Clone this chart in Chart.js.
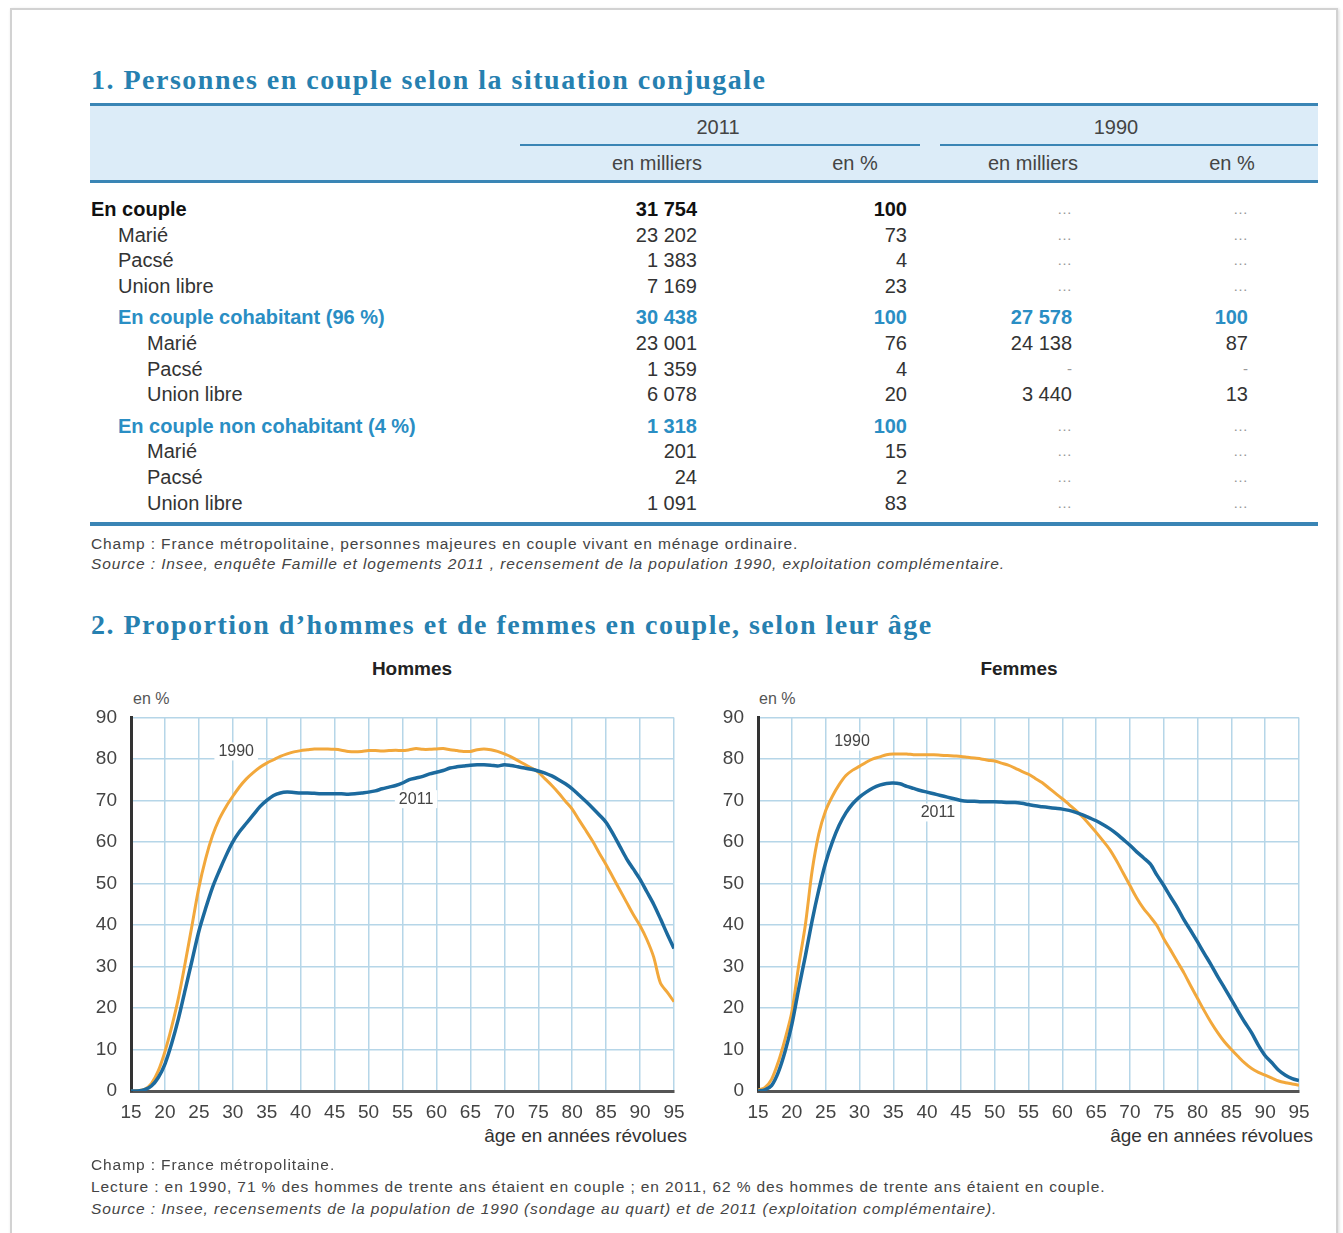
<!DOCTYPE html>
<html lang="fr">
<head>
<meta charset="utf-8">
<title>Personnes en couple</title>
<script src="https://cdn.jsdelivr.net/npm/chart.js@4.4.1/dist/chart.umd.min.js"></script>
<style>
  html, body { margin: 0; padding: 0; background: #fff; }
  body { width: 1343px; height: 1233px; position: relative; overflow: hidden;
         font-family: "Liberation Sans", Arial, sans-serif; color: #333; }
  .card { position: absolute; left: 10px; top: 8px; width: 1324px; height: 1240px;
          border: 2px solid #d2d2d2; box-shadow: 1px 1px 3px rgba(0,0,0,0.15); background: #fff; }
  .abs { position: absolute; white-space: nowrap; }
  .title { font-family: "Liberation Serif", "DejaVu Serif", serif; font-weight: bold;
           font-size: 28px; color: #2680b0; letter-spacing: 1.5px; }
  .band { position: absolute; left: 90px; width: 1228px; top: 106px; height: 76px; background: #dcecf8; }
  .rule { position: absolute; background: #3a85b5; }
  .hd { font-size: 20px; color: #444; transform: translateX(-50%); }
  .row { font-size: 20px; line-height: 24px; }
  .note { font-size: 15.5px; color: #444; letter-spacing: 0.9px; }
  .note i { font-style: italic; }
  .sub { font-size: 19px; font-weight: bold; color: #222; transform: translateX(-50%); }
  .unit { font-size: 16px; color: #555; }
  .xt { font-size: 19px; color: #333; transform: translateX(-100%); }
  canvas { position: absolute; }
</style>
</head>
<body>
<div class="card"></div>

<div class="abs title" style="left:91px; top:64px;">1. Personnes en couple selon la situation conjugale</div>
<div class="band"></div>
<div class="rule" style="left:90px; top:103px; width:1228px; height:3px;"></div>
<div class="rule" style="left:520px; top:144px; width:400px; height:2px;"></div>
<div class="rule" style="left:940px; top:144px; width:378px; height:2px;"></div>
<div class="rule" style="left:90px; top:180px; width:1228px; height:3px;"></div>
<div class="rule" style="left:90px; top:522px; width:1228px; height:4px;"></div>
<div id="header"></div>
<div id="table"></div>

<div class="abs note" style="left:91px; top:535px;">Champ : France métropolitaine, personnes majeures en couple vivant en ménage ordinaire.</div>
<div class="abs note" style="left:91px; top:555px;"><i>Source : Insee, enquête Famille et logements 2011 , recensement de la population 1990, exploitation complémentaire.</i></div>

<div class="abs title" style="left:91px; top:609px;">2. Proportion d’hommes et de femmes en couple, selon leur âge</div>

<div class="abs sub" style="left:412px; top:658px;">Hommes</div>
<div class="abs sub" style="left:1019px; top:658px;">Femmes</div>
<div class="abs unit" style="left:133px; top:690px;">en %</div>
<div class="abs unit" style="left:759px; top:690px;">en %</div>
<div class="abs xt" style="left:687px; top:1125px;">âge en années révolues</div>
<div class="abs xt" style="left:1313px; top:1125px;">âge en années révolues</div>

<canvas id="hommes" width="620" height="468" style="left:80px; top:692px;"></canvas>
<canvas id="femmes" width="620" height="468" style="left:705px; top:692px;"></canvas>

<div class="abs note" style="left:91px; top:1156px;">Champ : France métropolitaine.</div>
<div class="abs note" style="left:91px; top:1178px;">Lecture : en 1990, 71 % des hommes de trente ans étaient en couple ; en 2011, 62 % des hommes de trente ans étaient en couple.</div>
<div class="abs note" style="left:91px; top:1200px;"><i>Source : Insee, recensements de la population de 1990 (sondage au quart) et de 2011 (exploitation complémentaire).</i></div>

<script>
// ---- table 1 ----
const rowLabels = ['En couple', 'Marié', 'Pacsé', 'Union libre',
  'En couple cohabitant (96 %)', 'Marié', 'Pacsé', 'Union libre',
  'En couple non cohabitant (4 %)', 'Marié', 'Pacsé', 'Union libre'];
const rowLevels = [0, 1, 1, 1, 1, 2, 2, 2, 1, 2, 2, 2];
const rowKinds = ['total', '', '', '', 'group', '', '', '', 'group', '', '', ''];
const milliers2011 = ['31 754', '23 202', '1 383', '7 169', '30 438', '23 001', '1 359', '6 078', '1 318', '201', '24', '1 091'];
const pct2011 = ['100', '73', '4', '23', '100', '76', '4', '20', '100', '15', '2', '83'];
const milliers1990 = ['…', '…', '…', '…', '27 578', '24 138', '-', '3 440', '…', '…', '…', '…'];
const pct1990 = ['…', '…', '…', '…', '100', '87', '-', '13', '…', '…', '…', '…'];

// ---- graphique 2 ----
const ages = [];
for (let a = 15; a <= 95; a++) ages.push(a);

const hommes1990 = [0, 0.1, 0.4, 1.8, 4.8, 9.5, 15.5, 22.5, 31, 40,
  49, 56, 61.5, 65.5, 68.5, 71, 73.3, 75.2, 76.7, 78,
  79, 79.8, 80.6, 81.2, 81.7, 82, 82.2, 82.4, 82.4, 82.4,
  82.3, 82.1, 81.8, 81.7, 81.8, 82, 82, 81.9, 82, 82.1,
  82, 82.2, 82.5, 82.3, 82.3, 82.4, 82.5, 82.2, 82, 81.8,
  81.8, 82.2, 82.4, 82.2, 81.8, 81.2, 80.5, 79.6, 78.7, 77.8,
  76.8, 75.2, 73.6, 71.8, 69.8, 67.9, 65.3, 62.8, 60.2, 57.3,
  54.5, 51.5, 48.5, 45.5, 42.5, 39.8, 36.5, 32.3, 26, 23.8, 21.5];
const hommes2011 = [0, 0, 0.3, 1.2, 3.2, 6.5, 11.5, 17.5, 24.5, 31.5,
  38.5, 44, 49, 53, 56.7, 60, 62.5, 64.5, 66.5, 68.5,
  70, 71.2, 71.8, 72, 71.9, 71.8, 71.8, 71.7, 71.6, 71.6,
  71.6, 71.6, 71.5, 71.6, 71.8, 72, 72.3, 72.8, 73.2, 73.6,
  74.2, 75, 75.4, 75.8, 76.4, 76.8, 77.2, 77.8, 78.1, 78.3,
  78.5, 78.6, 78.6, 78.5, 78.3, 78.6, 78.4, 78.1, 77.8, 77.5,
  77.1, 76.6, 75.9, 75, 74, 72.8, 71.3, 69.8, 68.2, 66.5,
  64.7, 62, 59, 56, 53.5, 51, 48, 45, 41.5, 37.8, 34.3];
const femmes1990 = [0.2, 0.8, 2.8, 7, 12.5, 19, 30, 40, 53, 62,
  67.5, 71, 73.8, 76, 77.3, 78.2, 79.2, 80, 80.5, 81,
  81.2, 81.2, 81.2, 81, 81, 81, 81, 80.9, 80.8, 80.7,
  80.6, 80.4, 80.2, 80, 79.7, 79.5, 79, 78.5, 77.8, 77,
  76.3, 75.3, 74.3, 73, 71.7, 70.4, 69, 67.6, 66, 64.2,
  62.3, 60.3, 58.2, 55.5, 52.5, 49.5, 46.5, 44, 42, 39.8,
  36.7, 34, 31.2, 28.4, 25.3, 22.3, 19.3, 16.5, 14, 11.8,
  10, 8.3, 6.7, 5.4, 4.5, 3.8, 3.1, 2.4, 2, 1.7, 1.4];
const femmes2011 = [0, 0.3, 1.3, 4.5, 9.5, 16, 24.5, 32.5, 41, 48.5,
  55, 60, 64, 67, 69.2, 70.8, 72, 73, 73.7, 74.1,
  74.2, 74, 73.4, 72.9, 72.4, 72, 71.6, 71.2, 70.8, 70.4,
  70, 69.8, 69.8, 69.7, 69.7, 69.7, 69.6, 69.5, 69.5, 69.3,
  69, 68.7, 68.5, 68.3, 68.1, 67.9, 67.6, 67.1, 66.5, 65.8,
  65.1, 64.2, 63.2, 62, 60.6, 59.2, 57.6, 56.2, 54.7, 52,
  49.5, 46.8, 44.2, 41.2, 38.6, 35.9, 33.1, 30.4, 27.5, 24.8,
  22, 19.2, 16.5, 14, 11, 8.5, 6.8, 5, 3.8, 3, 2.5];
const yTicks = [0, 10, 20, 30, 40, 50, 60, 70, 80, 90];
const xTicks = [15, 20, 25, 30, 35, 40, 45, 50, 55, 60, 65, 70, 75, 80, 85, 90, 95];

// header
const header = document.getElementById('header');
function addText(parent, text, left, top, cls, style) {
  const d = document.createElement('div');
  d.className = 'abs ' + (cls || '');
  d.textContent = text;
  d.style.left = left + 'px';
  d.style.top = top + 'px';
  if (style) Object.assign(d.style, style);
  parent.appendChild(d);
  return d;
}
addText(header, '2011', 718, 116, 'hd');
addText(header, '1990', 1116, 116, 'hd');
addText(header, 'en milliers', 657, 152, 'hd');
addText(header, 'en %', 855, 152, 'hd');
addText(header, 'en milliers', 1033, 152, 'hd');
addText(header, 'en %', 1232, 152, 'hd');

// body rows
const table = document.getElementById('table');
const indents = [91, 118, 147];
const colRight = [697, 907, 1072, 1248];
let y = 197;
rowLabels.forEach((lab, i) => {
  if (i > 0 && rowKinds[i] === 'group') y += 6;
  let color = '#333', weight = 'normal';
  if (rowKinds[i] === 'total') { color = '#111'; weight = 'bold'; }
  if (rowKinds[i] === 'group') { color = '#2a8ec4'; weight = 'bold'; }
  const st = { color: color, fontWeight: weight };
  addText(table, lab, indents[rowLevels[i]], y, 'row', st);
  [milliers2011[i], pct2011[i], milliers1990[i], pct1990[i]].forEach((v, c) => {
    const d = addText(table, v, colRight[c], y, 'row', st);
    d.style.transform = 'translateX(-100%)';
    if (v === '…' || v === '-') { d.style.color = '#999'; d.style.fontWeight = 'normal'; d.style.fontSize = '15px'; }
  });
  y += 25.6;
});

// ---- charts ----
const tickFont = { family: '"Liberation Sans", Arial, sans-serif', size: 19 };

const seriesLabels = {
  id: 'seriesLabels',
  beforeDatasetsDraw(chart, args, opts) {
    const { ctx, scales: { x, y } } = chart;
    ctx.save();
    ctx.font = '16px "Liberation Sans", Arial, sans-serif';
    opts.items.forEach(it => {
      const w = ctx.measureText(it.text).width;
      ctx.fillStyle = '#fff';
      ctx.fillRect(x.getPixelForValue(it.x) - w / 2 - 4, y.getPixelForValue(it.y) - 9, w + 8, 18);
    });
    ctx.restore();
  },
  afterDatasetsDraw(chart, args, opts) {
    const { ctx, scales: { x, y } } = chart;
    ctx.save();
    ctx.font = '16px "Liberation Sans", Arial, sans-serif';
    ctx.fillStyle = '#444';
    ctx.textAlign = 'center';
    ctx.textBaseline = 'middle';
    opts.items.forEach(it => {
      ctx.fillText(it.text, x.getPixelForValue(it.x), y.getPixelForValue(it.y));
    });
    ctx.restore();
  }
};

function makeChart(id, v1990, v2011, labels, leftWidth) {
  const toPoints = vals => ages.map((a, i) => ({ x: a, y: vals[i] }));
  return new Chart(document.getElementById(id), {
    type: 'line',
    data: {
      datasets: [
        { label: '2011', data: toPoints(v2011), borderColor: '#1c6a9e', borderWidth: 3.5,
          pointRadius: 0, tension: 0.3, order: 1 },
        { label: '1990', data: toPoints(v1990), borderColor: '#f2a83c', borderWidth: 3,
          pointRadius: 0, tension: 0.3, order: 2 }
      ]
    },
    options: {
      responsive: false,
      animation: false,
      layout: { padding: { top: 9, right: 26, bottom: 0, left: 0 } },
      scales: {
        x: {
          type: 'linear', min: 15, max: 95,
          afterBuildTicks: s => { s.ticks = xTicks.map(v => ({ value: v })); },
          afterFit: s => { s.height = 69; },
          ticks: { color: '#444', font: tickFont, padding: 10, maxRotation: 0, autoSkip: false },
          grid: { color: '#b6d6e8', lineWidth: 1.5, drawTicks: false },
          border: { color: '#555', width: 3 }
        },
        y: {
          min: 0, max: 90,
          afterBuildTicks: s => { s.ticks = yTicks.map(v => ({ value: v })); },
          afterFit: s => { s.width = leftWidth; },
          ticks: { color: '#444', font: tickFont, padding: 14 },
          grid: { color: '#b6d6e8', lineWidth: 1.5, drawTicks: false },
          border: { color: '#333', width: 3 }
        }
      },
      plugins: {
        legend: { display: false },
        tooltip: { enabled: false },
        seriesLabels: { items: labels }
      }
    },
    plugins: [seriesLabels]
  });
}

makeChart('hommes', hommes1990, hommes2011, [
  { text: '1990', x: 30.5, y: 81.8 },
  { text: '2011', x: 57, y: 70.3 }
], 51);
makeChart('femmes', femmes1990, femmes2011, [
  { text: '1990', x: 28.9, y: 84.2 },
  { text: '2011', x: 41.6, y: 67.1 }
], 53);
</script>
</body>
</html>
